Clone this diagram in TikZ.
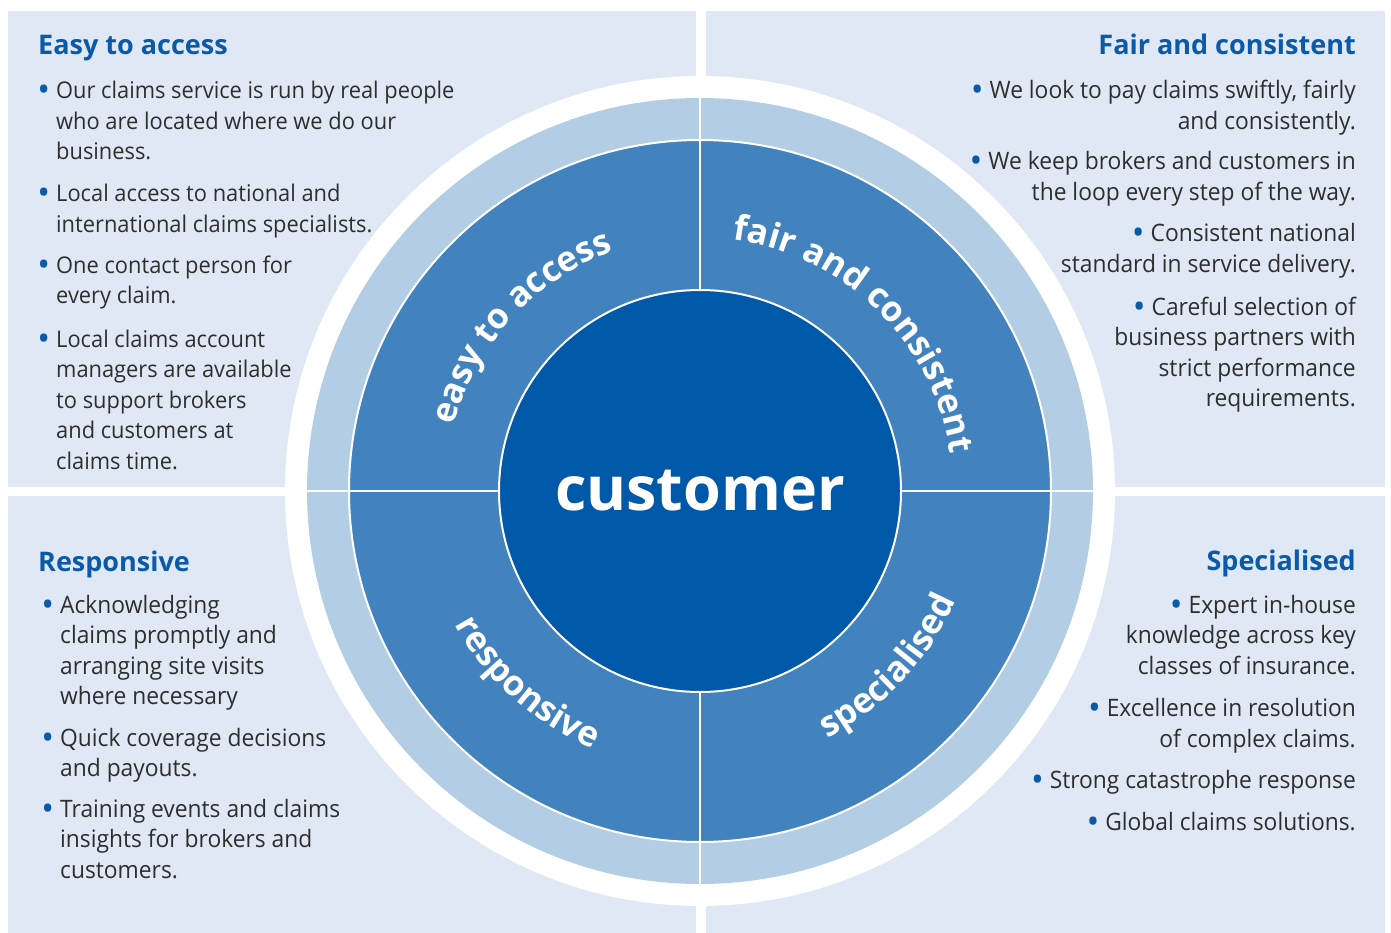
\documentclass[tikz,border=0pt]{standalone}
\usepackage{fontspec}
\setmainfont[FakeStretch=0.95]{Open Sans}
\newfontfamily\headfont{Open Sans}
\usetikzlibrary{decorations.text}

\definecolor{bgpale}{HTML}{E0E8F5}
\definecolor{ringpale}{HTML}{B3CDE4}
\definecolor{ringmid}{HTML}{4182BF}
\definecolor{coredark}{HTML}{0058A8}
\definecolor{headblue}{HTML}{0B5AA8}
\definecolor{bodygray}{HTML}{2E2E2E}
\newcommand{\bul}{{\headfont\color{headblue}\fontsize{34}{30}\selectfont\raisebox{-3pt}{\textbullet}}}
\newcommand{\bulL}{\llap{\bul\hspace{6pt}}}
\newcommand{\bulR}{\bul\hspace{6pt}}
\newcommand{\linesL}[1]{\begin{tabular}[t]{@{}l@{}}#1\end{tabular}}
\newcommand{\linesR}[1]{\begin{tabular}[t]{@{}r@{}}#1\end{tabular}}
\newcommand{\ringfont}{\headfont\fontsize{35}{40}\selectfont\bfseries}

\begin{document}
\begin{tikzpicture}[x=1pt,y=1pt,
    head/.style={inner sep=0pt, font=\headfont\fontsize{27}{32}\selectfont\bfseries, text=headblue},
    itemL/.style={inner sep=0pt, anchor=base west, font=\fontsize{24}{30.5}\selectfont, text=bodygray},
    itemLs/.style={itemL, font=\fontsize{23}{30.5}\selectfont},
    itemR/.style={inner sep=0pt, anchor=base east, font=\fontsize{24}{30.5}\selectfont, text=bodygray},
    ringtext/.style={postaction={decorate, decoration={text along path, text align=center, text color=white, text={|\ringfont|#1}}}}]
	\useasboundingbox (0,0) rectangle (1391,-933);
	
	% quadrant panels
	\def\panels {8/-11/696/-487, 706/-11/1385/-487, 8/-496/696/-933, 706/-496/1385/-933}
	\foreach \xa/\ya/\xb/\yb in \panels
	{	\fill[bgpale] (\xa,\ya) rectangle (\xb,\yb);}
	
	% rings
	\coordinate (ctr) at (700,-491);
	\fill[white] (ctr) circle[radius=415];
	\fill[ringpale] (ctr) circle[radius=393];
	\draw[white, line width=2, fill=ringmid] (ctr) circle[radius=351];
	\draw[white, line width=2] ([yshift=393]ctr) -- ([yshift=-393]ctr);
	\draw[white, line width=2] ([xshift=-393]ctr) -- ([xshift=393]ctr);
	\node[circle, fill=coredark, draw=white, line width=2, minimum size=402, inner sep=0pt,
	      text=white, font=\headfont\fontsize{61}{62}\selectfont\bfseries] (core) at (ctr) {customer};
	
	% curved labels
	\path[ringtext=easy to access] ([shift={(180:255)}]ctr) arc[start angle=180, end angle=95, radius=255];
	\path[ringtext=fair and consistent] ([shift={(100:253)}]ctr) arc[start angle=100, end angle=-9, radius=253];
	\path[ringtext=responsive] ([shift={(190:279)}]ctr) arc[start angle=190, end angle=266, radius=279];
	\path[ringtext=specialised] ([shift={(276:278)}]ctr) arc[start angle=276, end angle=358, radius=278];
	
	% easy to access
	\node[head, anchor=base west] (accessHead) at (38,-55) {Easy to access};
	\node[itemLs] (access1) at (56,-99) {\linesL{\bulL Our claims service is run by real people\\who are located where we do our\\business.}};
	\node[itemLs] (access2) at (56,-202) {\linesL{\bulL Local access to national and\\international claims specialists.}};
	\node[itemLs] (access3) at (56,-273) {\linesL{\bulL One contact person for\\every claim.}};
	\node[itemLs] (access4) at (56,-347) {\linesL{\bulL Local claims account\\managers are available\\to support brokers\\and customers at\\claims time.}};
	
	% fair and consistent
	\node[head, anchor=base east] (fairHead) at (1356,-55) {Fair and consistent};
	\node[itemR] (fair1) at (1356,-99) {\linesR{\bulR We look to pay claims swiftly, fairly\\and consistently.}};
	\node[itemR] (fair2) at (1356,-170) {\linesR{\bulR We keep brokers and customers in\\the loop every step of the way.}};
	\node[itemR] (fair3) at (1356,-242) {\linesR{\bulR Consistent national\\standard in service delivery.}};
	\node[itemR] (fair4) at (1356,-315) {\linesR{\bulR Careful selection of\\business partners with\\strict performance\\requirements.}};
	
	% responsive
	\node[head, anchor=base west] (respHead) at (38,-571) {Responsive};
	\node[itemL] (resp1) at (60,-613) {\linesL{\bulL Acknowledging\\claims promptly and\\arranging site visits\\where necessary}};
	\node[itemL] (resp2) at (60,-746) {\linesL{\bulL Quick coverage decisions\\and payouts.}};
	\node[itemL] (resp3) at (60,-817) {\linesL{\bulL Training events and claims\\insights for brokers and\\customers.}};
	
	% specialised
	\node[head, anchor=base east] (specHead) at (1356,-570) {Specialised};
	\node[itemR] (spec1) at (1356,-613) {\linesR{\bulR Expert in-house\\knowledge across key\\classes of insurance.}};
	\node[itemR] (spec2) at (1356,-716.5) {\linesR{\bulR Excellence in resolution\\of complex claims.}};
	\node[itemR] (spec3) at (1356,-788) {\linesR{\bulR Strong catastrophe response}};
	\node[itemR] (spec4) at (1356,-830) {\linesR{\bulR Global claims solutions.}};
\end{tikzpicture}
\end{document}
